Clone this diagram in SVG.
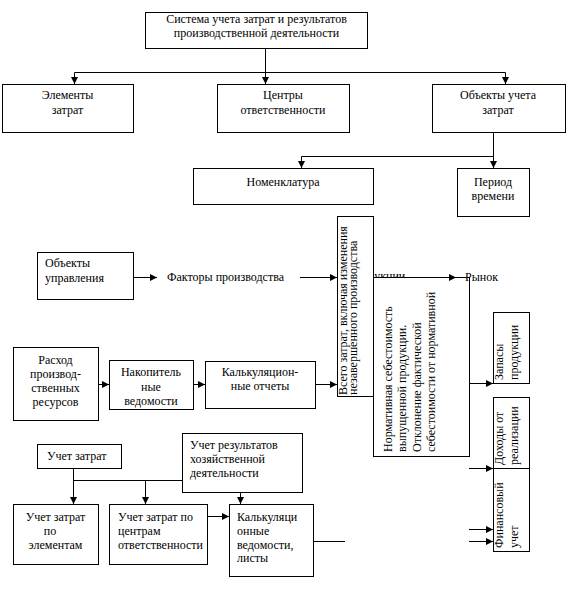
<svg xmlns="http://www.w3.org/2000/svg" width="578" height="613" viewBox="0 0 578 613">
<style>
.box{fill:#fff;stroke:#000;stroke-width:1}
.t{font-family:"Liberation Serif","Times New Roman",serif;font-size:12px;fill:#000}
.c{text-anchor:middle}
.ln{fill:none;stroke:#000;stroke-width:1}
</style>
<defs>
<marker id="ah" viewBox="0 0 7 7" refX="7" refY="3.5" markerWidth="7" markerHeight="7" markerUnits="userSpaceOnUse" orient="auto">
<path d="M0,0 L7,3.5 L0,7 z" fill="#000"/>
</marker>
</defs>
<rect width="578" height="613" fill="#fff"/>
<g id="hidden-label"><text class="t" x="350" y="280">продукции</text></g>
<g id="n-system"><rect class="box" x="145.5" y="12.5" width="222" height="36"/>
<text class="t c" x="256.5" y="23">Система учета затрат и результатов</text>
<text class="t c" x="256.5" y="37">производственной деятельности</text></g>
<g id="n-elements"><rect class="box" x="2.5" y="84.5" width="131" height="48"/>
<text class="t c" x="67.5" y="99">Элементы</text><text class="t c" x="67.5" y="114">затрат</text></g>
<g id="n-centers"><rect class="box" x="217.5" y="84.5" width="132" height="48"/>
<text class="t c" x="283" y="99">Центры</text><text class="t c" x="283" y="114">ответственности</text></g>
<g id="n-objects"><rect class="box" x="432.5" y="84.5" width="133" height="48"/>
<text class="t c" x="498" y="99">Объекты учета</text><text class="t c" x="498" y="114">затрат</text></g>
<g id="n-nomen"><rect class="box" x="193.5" y="168.5" width="180" height="36"/>
<text class="t c" x="283" y="186">Номенклатура</text></g>
<g id="n-period"><rect class="box" x="457.5" y="168.5" width="72" height="48"/>
<text class="t c" x="493" y="186">Период</text><text class="t c" x="493" y="200">времени</text></g>
<g id="n-total"><rect class="box" x="337.5" y="216.5" width="36" height="180"/>
<text class="t" transform="translate(347,395) rotate(-90)">Всего затрат, включая изменения</text>
<text class="t" transform="translate(357,395) rotate(-90)">незавершенного производства</text></g>
<g id="n-norm"><rect class="box" x="373.5" y="277.5" width="96" height="179"/>
<text class="t" transform="translate(392,452) rotate(-90)">Нормативная себестоимость</text>
<text class="t" transform="translate(406,452) rotate(-90)">выпущенной продукции.</text>
<text class="t" transform="translate(421,452) rotate(-90)">Отклонение фактической</text>
<text class="t" transform="translate(435,452) rotate(-90)">себестоимости от нормативной</text></g>
<g id="n-mgmt"><rect class="box" x="37.5" y="252.5" width="96" height="47"/>
<text class="t" x="45" y="267">Объекты</text><text class="t" x="45" y="282">управления</text></g>
<g id="n-factors"><text class="t" x="167" y="281">Факторы производства</text></g>
<g id="n-market"><text class="t" x="465" y="281">Рынок</text></g>
<g id="n-resources"><rect class="box" x="13.5" y="347.5" width="85" height="73"/>
<text class="t c" x="55.5" y="364">Расход</text><text class="t c" x="55.5" y="378">производ-</text>
<text class="t c" x="55.5" y="392">ственных</text><text class="t c" x="55.5" y="406">ресурсов</text></g>
<g id="n-accum"><rect class="box" x="109.5" y="360.5" width="84" height="49"/>
<text class="t c" x="151" y="376">Накопитель</text><text class="t c" x="151" y="391">ные</text><text class="t c" x="151" y="405">ведомости</text></g>
<g id="n-calcrep"><rect class="box" x="205.5" y="361.5" width="110" height="47"/>
<text class="t c" x="260" y="376">Калькуляцион-</text><text class="t c" x="260" y="390">ные отчеты</text></g>
<g id="n-stock"><rect class="box" x="493.5" y="312.5" width="36" height="71"/>
<text class="t" transform="translate(503,380) rotate(-90)">Запасы</text>
<text class="t" transform="translate(518,380) rotate(-90)">продукции</text></g>
<g id="n-income"><rect class="box" x="493.5" y="397.5" width="36" height="71"/>
<text class="t" transform="translate(503,465) rotate(-90)">Доходы от</text>
<text class="t" transform="translate(518,465) rotate(-90)">реализации</text></g>
<g id="n-fin"><rect class="box" x="493.5" y="468.5" width="36" height="83"/>
<text class="t" transform="translate(503,548) rotate(-90)">Финансовый</text>
<text class="t" transform="translate(518,548) rotate(-90)">учет</text></g>
<g id="n-costacc"><rect class="box" x="37.5" y="444.5" width="84" height="24"/>
<text class="t" x="47" y="460">Учет затрат</text></g>
<g id="n-results"><rect class="box" x="182.5" y="433.5" width="120" height="59"/>
<text class="t" x="190" y="449">Учет результатов</text><text class="t" x="190" y="463">хозяйственной</text><text class="t" x="190" y="477">деятельности</text></g>
<g id="n-byelem"><rect class="box" x="13.5" y="504.5" width="85" height="60"/>
<text class="t c" x="55.5" y="521">Учет затрат</text><text class="t c" x="50" y="535">по</text><text class="t c" x="55.5" y="549">элементам</text></g>
<g id="n-bycenter"><rect class="box" x="109.5" y="504.5" width="98" height="60"/>
<text class="t" x="118" y="521">Учет затрат по</text><text class="t" x="118" y="535">центрам</text><text class="t" x="118" y="549">ответственности</text></g>
<g id="n-calcsheets"><rect class="box" x="229.5" y="504.5" width="84" height="72"/>
<text class="t" x="237" y="521">Калькуляци</text><text class="t" x="237" y="535">онные</text><text class="t" x="237" y="549">ведомости,</text><text class="t" x="237" y="562">листы</text></g>
<g id="connectors" class="ln">
<path d="M265.5,48 V84" marker-end="url(#ah)"/>
<path d="M265.5,72.5 H74.5 V84" marker-end="url(#ah)"/>
<path d="M265.5,72.5 H505.5 V84" marker-end="url(#ah)"/>
<path d="M493.5,132 V168" marker-end="url(#ah)"/>
<path d="M493.5,156.5 H301.5 V168" marker-end="url(#ah)"/>
<path d="M133,277.5 H157" marker-end="url(#ah)"/>
<path d="M300,277.5 H337" marker-end="url(#ah)"/>
<path d="M373,277.5 H456" marker-end="url(#ah)"/>
<path d="M98,384.5 H109" marker-end="url(#ah)"/>
<path d="M193,384.5 H205" marker-end="url(#ah)"/>
<path d="M315,384.5 H337" marker-end="url(#ah)"/>
<path d="M469,383.5 H493" marker-end="url(#ah)"/>
<path d="M469,468.5 H493" marker-end="url(#ah)"/>
<path d="M469,529.5 H493" marker-end="url(#ah)"/>
<path d="M469,541.5 H493" marker-end="url(#ah)"/>
<path d="M313,541.5 H345"/>
<path d="M73.5,468 V504" marker-end="url(#ah)"/>
<path d="M73.5,480.5 H182"/>
<path d="M145.5,480.5 V504" marker-end="url(#ah)"/>
<path d="M240.5,492 V504" marker-end="url(#ah)"/>
<path d="M207,516.5 H229" marker-end="url(#ah)"/>
</g>
</svg>
